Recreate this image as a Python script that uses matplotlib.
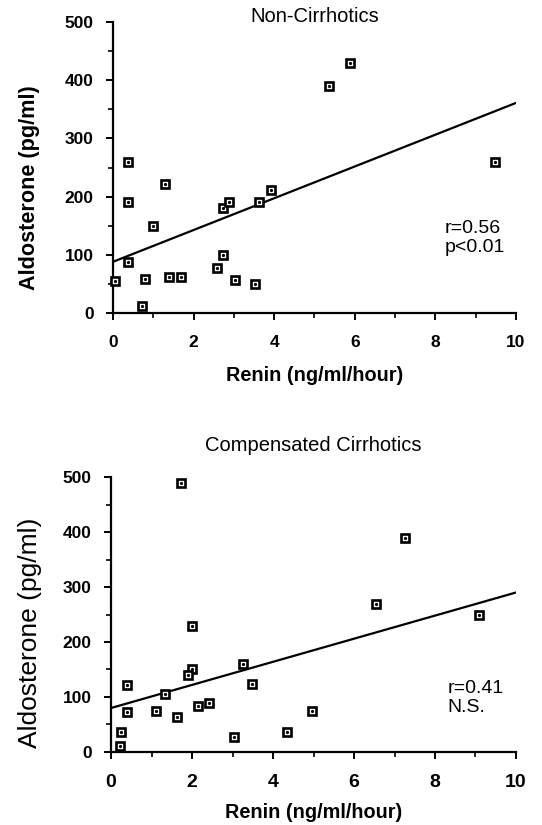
import matplotlib.pyplot as plt
import numpy as np
from matplotlib.ticker import MultipleLocator

plt.rcParams['font.family'] = ['Liberation Sans', 'DejaVu Sans']

# --- data ---
# Non-Cirrhotics
renin_nc = [0.05, 0.37, 0.37, 0.37, 0.72, 0.79, 1.0, 1.29, 1.38, 1.68, 2.59,
            2.72, 2.73, 2.89, 3.02, 3.53, 3.63, 3.93, 5.37, 5.87, 9.49]
aldo_nc = [55, 260, 190, 87, 12, 59, 150, 221, 62, 62, 77,
           181, 99, 191, 56, 49, 190, 211, 390, 430, 259]
fit_nc = (88, 27.3)   # intercept, slope
stats_nc = 'r=0.56\np<0.01'

# Compensated Cirrhotics
renin_cc = [1.73, 7.27, 6.55, 9.09, 2.01, 3.25, 1.99, 1.91, 3.47, 0.39, 1.32,
            2.43, 2.14, 1.11, 0.39, 4.95, 1.63, 0.24, 4.35, 3.04, 0.23]
aldo_cc = [490, 390, 270, 250, 230, 160, 150, 140, 124, 122, 105,
           89, 83, 75, 72, 74, 63, 36, 36, 28, 10]
fit_cc = (80, 21.0)
stats_cc = 'r=0.41\nN.S.'

xticks = [0, 2, 4, 6, 8, 10]
yticks = [0, 100, 200, 300, 400, 500]

fig = plt.figure(figsize=(5.42, 8.25), dpi=100)
ax1 = fig.add_axes([0.2085, 0.6206, 0.7435, 0.3527])
ax2 = fig.add_axes([0.205, 0.0885, 0.747, 0.3333])


def draw(ax, x, y, fit, stats, stats_pos, ylab_kw, xtick_size, xpad, xlabpad):
    ax.plot(x, y, ls='none', marker='s', ms=6, mfc='white', mec='black',
            mew=1.9, clip_on=False, zorder=3)
    ax.plot(x, y, ls='none', marker='o', ms=1.3, mfc='black', mec='black',
            clip_on=False, zorder=4)
    xs = np.array([0, 10])
    ax.plot(xs, fit[0] + fit[1] * xs, color='black', lw=1.6, zorder=2)

    ax.set_xlim(0, 10)
    ax.set_ylim(0, 500)
    ax.set_xticks(xticks)
    ax.set_yticks(yticks)
    ax.xaxis.set_minor_locator(MultipleLocator(1))
    ax.yaxis.set_minor_locator(MultipleLocator(50))
    for s in ['top', 'right']:
        ax.spines[s].set_visible(False)
    for s in ['left', 'bottom']:
        ax.spines[s].set_linewidth(1.6)
    ax.tick_params(which='major', direction='out', length=5, width=1.4,
                   labelsize=12.5)
    ax.tick_params(axis='x', which='major', pad=xpad, labelsize=xtick_size)
    ax.tick_params(axis='y', which='major', pad=9)
    ax.tick_params(which='minor', direction='out', length=3.5, width=1.2)
    for lab in ax.get_xticklabels() + ax.get_yticklabels():
        lab.set_fontweight('bold')

    ax.set_xlabel('Renin (ng/ml/hour)', fontsize=14.3, fontweight='bold',
                  labelpad=xlabpad)
    ax.set_ylabel('Aldosterone (pg/ml)', **ylab_kw)
    ax.text(stats_pos[0], stats_pos[1], stats, fontsize=14, linespacing=1.1,
            va='center')


draw(ax1, renin_nc, aldo_nc, fit_nc, stats_nc, (8.24, 129),
     dict(fontsize=15.6, fontweight='bold'), 12.5, 10.5, 11.5)
ax1.yaxis.set_label_coords(-0.18, 0.43)
ax1.set_title('Non-Cirrhotics', fontsize=14.5, pad=0, y=1.0)

draw(ax2, renin_cc, aldo_cc, fit_cc, stats_cc, (8.3, 98),
     dict(fontsize=19), 14, 10.5, 9)
ax2.yaxis.set_label_coords(-0.17, 0.433)
ax2.set_title('Compensated Cirrhotics', fontsize=14.5, pad=18.5)

fig.savefig('out.png', dpi=100)
